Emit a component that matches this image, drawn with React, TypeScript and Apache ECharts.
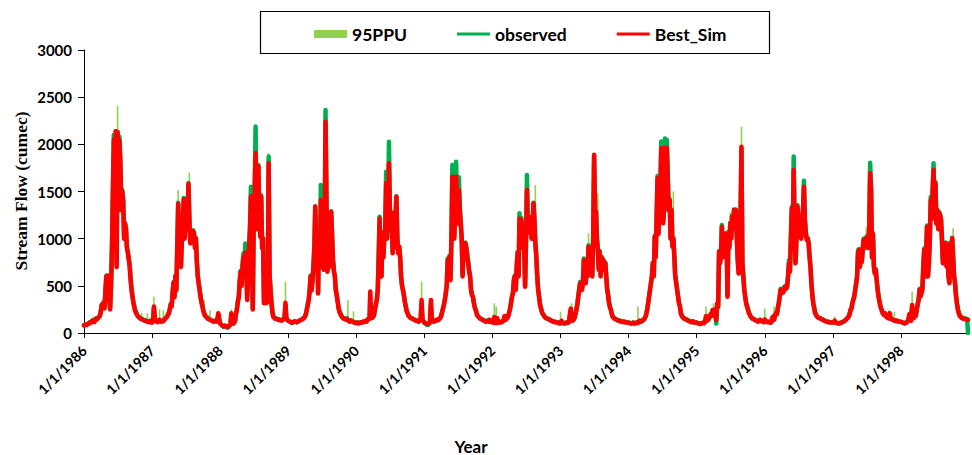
import React, { useEffect, useRef } from "react";
import * as echarts from "echarts";

// ---------------- data ----------------
const years = [1986, 1987, 1988, 1989, 1990, 1991, 1992, 1993, 1994, 1995, 1996, 1997, 1998];
const flowStepDays = 5; // observed / Best_Sim sampled every 5 days from 1 Jan of each year
const ppuStepDays = 10; // 95PPU band sampled every 10 days from 1 Jan of each year

const bestSim: number[][] = [
  [80, 85, 90, 85, 95, 100, 110, 105, 120, 130, 125, 115, 140, 150, 145, 160, 170, 180, 220, 300, 280, 320, 260, 450, 600, 420, 610, 380, 250, 500, 900, 1500, 2050, 1200, 2140, 700, 2130, 1600, 2040, 1800, 1300, 1500, 1400, 1000, 1160, 1100, 900, 850, 780, 700, 560, 450, 385, 320, 270, 230, 210, 190, 175, 165, 155, 150, 145, 140, 135, 130, 130, 125, 120, 120, 115, 125, 110],
  [110, 120, 280, 150, 130, 120, 115, 130, 140, 125, 120, 130, 125, 140, 150, 160, 170, 190, 210, 250, 300, 280, 420, 530, 380, 600, 450, 900, 1370, 900, 1100, 700, 1000, 1200, 1420, 1000, 1200, 1350, 1100, 1580, 1200, 950, 1060, 980, 1080, 1050, 900, 1000, 750, 600, 520, 450, 380, 320, 280, 230, 200, 180, 170, 160, 150, 145, 140, 135, 130, 125, 120, 125, 130, 120, 140, 210, 150],
  [100, 90, 80, 75, 70, 80, 75, 70, 65, 75, 80, 90, 210, 120, 100, 110, 130, 200, 250, 330, 380, 550, 650, 500, 700, 810, 600, 850, 700, 350, 600, 900, 1100, 1450, 1000, 250, 1200, 1500, 1905, 1100, 1400, 1765, 1200, 1020, 1445, 900, 1000, 315, 350, 330, 320, 350, 1800, 600, 456, 315, 220, 170, 160, 150, 150, 145, 140, 140, 135, 135, 130, 140, 145, 150, 320, 160, 140],
  [130, 125, 120, 115, 110, 115, 120, 125, 120, 115, 120, 125, 130, 135, 140, 145, 150, 160, 175, 200, 250, 300, 350, 450, 600, 450, 550, 700, 900, 1340, 900, 1000, 420, 1050, 800, 1410, 700, 1000, 670, 900, 2240, 1400, 650, 900, 700, 1000, 1286, 1040, 770, 650, 600, 450, 400, 330, 260, 220, 200, 180, 165, 155, 150, 145, 140, 150, 135, 125, 120, 130, 125, 120, 115, 110, 105],
  [105, 110, 100, 105, 110, 115, 110, 120, 115, 125, 130, 120, 140, 150, 150, 440, 180, 160, 170, 190, 250, 300, 350, 450, 800, 1215, 700, 600, 1057, 800, 1000, 1100, 1587, 1000, 1200, 1800, 1300, 1100, 1270, 845, 1000, 900, 1200, 1445, 1000, 845, 915, 800, 600, 500, 456, 400, 330, 280, 230, 210, 180, 170, 160, 155, 150, 145, 140, 135, 130, 130, 125, 120, 130, 150, 350, 140, 125],
  [110, 105, 100, 95, 95, 100, 120, 350, 150, 130, 120, 125, 130, 140, 135, 140, 150, 160, 180, 220, 260, 300, 350, 420, 500, 775, 600, 810, 560, 1000, 1657, 1160, 1000, 1300, 1657, 1400, 1160, 1516, 1300, 1160, 1000, 600, 900, 850, 950, 900, 810, 740, 650, 600, 456, 400, 385, 320, 270, 244, 210, 180, 170, 160, 150, 145, 140, 135, 130, 125, 120, 125, 130, 120, 140, 120, 115],
  [115, 110, 170, 110, 105, 160, 110, 115, 110, 120, 115, 125, 130, 180, 140, 150, 160, 180, 220, 260, 320, 385, 420, 560, 600, 456, 700, 850, 600, 1215, 900, 1200, 1050, 1090, 900, 490, 1000, 1516, 1100, 1230, 1060, 1150, 1000, 1100, 1375, 1200, 950, 810, 600, 456, 380, 300, 260, 220, 200, 185, 170, 160, 155, 150, 145, 140, 135, 130, 125, 120, 120, 115, 115, 110, 110, 105, 100],
  [100, 130, 110, 105, 100, 105, 110, 105, 110, 115, 200, 260, 150, 130, 140, 160, 200, 244, 300, 380, 456, 527, 480, 456, 527, 770, 600, 527, 700, 600, 915, 800, 615, 700, 600, 1000, 1887, 1286, 1286, 1000, 880, 668, 860, 600, 800, 700, 770, 668, 739, 600, 456, 400, 315, 270, 244, 200, 170, 160, 150, 145, 140, 135, 130, 130, 125, 120, 125, 120, 115, 120, 115, 110, 110],
  [110, 105, 100, 100, 105, 110, 100, 100, 105, 110, 105, 120, 130, 120, 125, 130, 140, 150, 170, 200, 250, 315, 385, 456, 527, 600, 739, 600, 1020, 800, 1200, 1640, 1050, 1300, 1500, 1958, 1400, 1163, 1300, 1960, 1700, 1960, 1620, 1300, 1410, 1000, 1300, 915, 1000, 810, 600, 527, 456, 385, 315, 280, 210, 180, 165, 155, 150, 145, 140, 135, 130, 125, 120, 115, 120, 125, 110, 115, 110],
  [110, 105, 100, 100, 95, 100, 105, 110, 105, 120, 180, 130, 140, 150, 173, 200, 180, 244, 190, 250, 200, 140, 315, 280, 862, 739, 810, 1127, 800, 1050, 900, 1000, 1050, 385, 1057, 900, 1160, 1000, 1233, 1100, 1304, 1200, 1304, 1000, 770, 630, 700, 1200, 1975, 739, 600, 456, 385, 315, 280, 244, 210, 190, 170, 160, 150, 145, 140, 135, 130, 125, 120, 130, 140, 125, 130, 120, 115],
  [140, 125, 120, 115, 120, 115, 110, 115, 160, 173, 140, 190, 210, 200, 260, 315, 380, 456, 420, 456, 430, 480, 490, 470, 490, 600, 739, 650, 1000, 1320, 900, 1728, 1100, 739, 1000, 1340, 1233, 1100, 1057, 1000, 1100, 1300, 1550, 1200, 1057, 986, 1000, 951, 810, 700, 527, 400, 315, 260, 210, 190, 175, 165, 160, 155, 150, 145, 140, 135, 130, 125, 120, 120, 115, 115, 110, 110, 110],
  [110, 115, 130, 110, 105, 100, 105, 100, 105, 110, 115, 120, 125, 130, 140, 150, 160, 173, 200, 244, 260, 315, 350, 385, 456, 520, 597, 845, 880, 700, 800, 750, 880, 986, 900, 1000, 950, 1020, 900, 1100, 1693, 1516, 800, 1050, 700, 630, 668, 560, 456, 385, 330, 280, 250, 220, 200, 190, 210, 175, 165, 160, 155, 210, 150, 145, 140, 135, 130, 135, 125, 130, 125, 120, 120],
  [120, 115, 110, 105, 100, 105, 110, 120, 140, 200, 150, 130, 297, 180, 160, 200, 180, 250, 300, 350, 456, 385, 420, 456, 700, 880, 600, 850, 1127, 600, 739, 1000, 1410, 1200, 1500, 1728, 1300, 1587, 1160, 1300, 1100, 1270, 1250, 1200, 986, 739, 900, 800, 951, 700, 900, 600, 527, 951, 700, 1004, 800, 600, 527, 400, 315, 250, 210, 180, 170, 160, 155, 150, 150, 145, 145, 140, 140],
];

const observed: number[][] = [
  [85, 90, 85, 90, 95, 105, 110, 110, 120, 135, 125, 120, 140, 155, 150, 160, 175, 185, 230, 300, 290, 330, 270, 460, 610, 430, 600, 390, 260, 520, 920, 1520, 2100, 1250, 2140, 720, 2130, 1620, 2080, 1820, 1320, 1520, 1420, 1020, 1170, 1120, 920, 860, 790, 720, 580, 470, 400, 330, 280, 240, 215, 195, 180, 170, 160, 155, 150, 145, 140, 135, 135, 130, 125, 125, 120, 130, 115],
  [115, 120, 270, 150, 130, 125, 120, 130, 140, 130, 125, 130, 130, 140, 155, 165, 175, 195, 215, 255, 310, 290, 430, 540, 390, 610, 460, 910, 1380, 910, 1110, 720, 1020, 1210, 1430, 1020, 1210, 1360, 1120, 1590, 1210, 960, 1070, 990, 1090, 1060, 910, 1010, 760, 610, 530, 460, 390, 330, 290, 240, 210, 185, 175, 165, 155, 150, 145, 140, 135, 130, 125, 130, 135, 125, 140, 200, 150],
  [100, 90, 80, 70, 65, 75, 70, 65, 55, 60, 75, 85, 200, 115, 100, 110, 130, 210, 260, 340, 390, 560, 660, 520, 720, 845, 620, 950, 720, 360, 620, 920, 1120, 1550, 1020, 260, 1220, 1520, 2190, 1120, 1420, 1780, 1220, 1040, 1460, 920, 1010, 330, 360, 340, 330, 360, 1870, 620, 470, 330, 230, 180, 165, 155, 155, 150, 145, 145, 140, 140, 135, 140, 150, 155, 300, 165, 140],
  [130, 125, 120, 115, 110, 115, 120, 125, 120, 115, 120, 125, 130, 135, 140, 145, 155, 165, 180, 205, 255, 310, 360, 460, 610, 460, 560, 710, 910, 1340, 910, 1010, 430, 1060, 810, 1570, 710, 1010, 680, 910, 2364, 1420, 660, 910, 710, 1010, 1290, 1050, 780, 660, 610, 460, 410, 340, 270, 230, 210, 185, 170, 160, 155, 150, 145, 155, 140, 130, 125, 135, 130, 125, 120, 115, 110],
  [110, 110, 105, 105, 110, 115, 115, 120, 120, 125, 130, 125, 140, 150, 150, 160, 170, 165, 175, 195, 255, 310, 360, 460, 810, 1233, 710, 610, 1070, 810, 1010, 1110, 1710, 1010, 1210, 2028, 1320, 1110, 1280, 860, 1010, 910, 1210, 1450, 1010, 860, 920, 810, 610, 510, 460, 410, 340, 290, 240, 215, 185, 175, 165, 160, 155, 150, 145, 140, 135, 135, 130, 125, 130, 145, 300, 140, 125],
  [105, 100, 90, 85, 85, 95, 115, 300, 145, 130, 120, 125, 130, 140, 135, 140, 150, 160, 185, 225, 265, 310, 360, 430, 510, 790, 610, 820, 570, 1010, 1780, 1180, 1010, 1320, 1816, 1420, 1180, 1650, 1320, 1180, 1010, 610, 910, 860, 960, 910, 820, 750, 660, 610, 470, 410, 390, 330, 280, 250, 215, 185, 175, 165, 155, 150, 145, 140, 135, 130, 125, 130, 135, 125, 140, 125, 120],
  [120, 115, 160, 115, 110, 150, 115, 115, 115, 120, 120, 125, 135, 170, 145, 155, 165, 185, 225, 265, 330, 390, 430, 570, 610, 470, 710, 860, 610, 1270, 910, 1220, 1060, 1100, 910, 500, 1010, 1675, 1110, 1240, 1070, 1160, 1010, 1110, 1380, 1210, 960, 820, 610, 470, 390, 310, 270, 230, 205, 190, 175, 165, 160, 155, 150, 145, 140, 135, 130, 125, 125, 120, 120, 115, 115, 110, 105],
  [105, 120, 110, 105, 100, 105, 110, 110, 110, 115, 180, 240, 150, 135, 145, 165, 205, 250, 310, 390, 470, 540, 490, 470, 540, 790, 610, 540, 710, 610, 930, 810, 630, 710, 610, 1010, 1890, 1300, 1290, 1010, 890, 680, 870, 610, 810, 710, 780, 680, 750, 610, 470, 410, 325, 280, 250, 205, 175, 165, 155, 150, 145, 140, 135, 135, 130, 125, 125, 120, 120, 120, 115, 115, 110],
  [110, 105, 105, 100, 105, 110, 105, 100, 105, 115, 110, 120, 130, 125, 125, 135, 145, 155, 175, 205, 255, 325, 395, 470, 540, 610, 750, 610, 1030, 810, 1210, 1665, 1060, 1310, 1510, 2030, 1410, 1180, 1310, 2063, 1710, 2046, 1640, 1310, 1420, 1010, 1310, 930, 1010, 820, 610, 540, 470, 395, 325, 290, 220, 190, 175, 160, 155, 150, 145, 140, 135, 130, 125, 120, 120, 125, 115, 115, 110],
  [110, 105, 100, 100, 95, 100, 105, 110, 105, 120, 170, 130, 140, 150, 170, 195, 180, 240, 190, 245, 180, 100, 300, 270, 870, 750, 820, 1145, 810, 1060, 910, 1010, 1060, 400, 1070, 910, 1170, 1010, 1240, 1110, 1310, 1210, 1310, 1010, 780, 640, 710, 1210, 1950, 750, 610, 470, 395, 325, 290, 255, 220, 195, 175, 165, 155, 150, 145, 140, 135, 130, 125, 135, 140, 130, 130, 125, 120],
  [145, 130, 125, 120, 120, 115, 115, 115, 150, 170, 140, 185, 205, 205, 265, 320, 390, 470, 430, 470, 440, 490, 500, 480, 500, 610, 774, 660, 1010, 1339, 910, 1870, 1110, 750, 1010, 1357, 1250, 1110, 1070, 1010, 1110, 1310, 1615, 1210, 1070, 1000, 1010, 960, 820, 710, 540, 410, 325, 270, 220, 200, 180, 170, 165, 160, 155, 150, 145, 140, 135, 130, 125, 125, 120, 120, 115, 115, 115],
  [115, 115, 125, 110, 105, 105, 105, 105, 105, 110, 115, 120, 125, 135, 145, 155, 165, 180, 205, 250, 265, 325, 360, 395, 470, 530, 610, 880, 890, 710, 810, 760, 890, 1000, 910, 1010, 960, 1030, 910, 1110, 1806, 1530, 810, 1060, 710, 640, 680, 570, 470, 395, 340, 290, 260, 230, 210, 195, 200, 180, 170, 165, 160, 200, 155, 150, 145, 140, 135, 135, 130, 130, 125, 125, 120],
  [120, 115, 110, 105, 105, 110, 115, 125, 140, 190, 150, 135, 280, 180, 165, 200, 185, 255, 310, 360, 470, 395, 430, 470, 710, 898, 610, 860, 1140, 610, 750, 1010, 1445, 1210, 1510, 1800, 1310, 1600, 1170, 1310, 1110, 1286, 1260, 1210, 1000, 750, 910, 810, 960, 710, 910, 610, 540, 960, 710, 1010, 810, 610, 540, 410, 325, 260, 220, 190, 180, 170, 165, 160, 155, 155, 150, 145, 0],
];

const ppuLower: number[][] = [
  [65, 75, 80, 95, 105, 110, 125, 130, 155, 205, 265, 245, 585, 595, 235, 885, 2035, 2125, 2115, 2025, 1285, 1385, 1145, 885, 765, 545, 370, 255, 195, 160, 140, 130, 120, 115, 105, 100, 95],
  [95, 265, 115, 100, 125, 105, 110, 135, 155, 195, 285, 405, 365, 435, 1355, 1085, 985, 1405, 1185, 1085, 1185, 1045, 1065, 885, 735, 505, 365, 265, 185, 155, 135, 125, 115, 105, 115, 125, 135],
  [85, 65, 55, 60, 50, 65, 195, 85, 115, 235, 365, 635, 685, 585, 685, 585, 1085, 985, 1185, 1890, 1385, 1185, 1430, 985, 335, 305, 1785, 440, 205, 145, 135, 125, 120, 115, 130, 305, 125],
  [115, 105, 95, 105, 105, 105, 115, 125, 135, 160, 235, 335, 585, 535, 885, 885, 405, 785, 685, 655, 2225, 635, 685, 1270, 755, 585, 385, 245, 185, 150, 135, 125, 120, 105, 110, 100, 90],
  [90, 85, 95, 95, 100, 115, 125, 135, 165, 155, 235, 335, 785, 685, 1040, 985, 1570, 1185, 1285, 1255, 985, 1185, 985, 900, 585, 440, 315, 215, 165, 145, 135, 125, 115, 110, 115, 335, 110],
  [95, 85, 80, 105, 135, 105, 115, 120, 135, 165, 245, 335, 485, 585, 545, 1640, 985, 1640, 1145, 1285, 985, 885, 935, 795, 635, 440, 370, 255, 195, 155, 135, 125, 115, 105, 115, 125, 100],
  [100, 155, 90, 95, 95, 100, 115, 125, 145, 205, 305, 405, 585, 685, 585, 885, 1035, 885, 985, 1085, 1045, 985, 1360, 935, 585, 365, 245, 185, 155, 140, 130, 120, 110, 105, 100, 95, 85],
  [85, 95, 85, 95, 95, 185, 135, 125, 185, 285, 440, 465, 510, 585, 685, 900, 600, 585, 1870, 1270, 865, 845, 785, 755, 725, 440, 300, 230, 155, 135, 125, 115, 110, 110, 100, 100, 95],
  [95, 85, 90, 85, 90, 90, 115, 110, 125, 155, 235, 370, 510, 725, 1005, 1185, 1035, 1485, 1385, 1285, 1685, 1605, 1395, 1285, 985, 585, 440, 300, 195, 150, 135, 125, 115, 105, 105, 95, 95],
  [95, 85, 80, 90, 90, 165, 125, 155, 165, 175, 185, 300, 845, 795, 785, 885, 1035, 1040, 1145, 1220, 1290, 1290, 755, 685, 1960, 585, 370, 265, 195, 155, 135, 125, 115, 105, 125, 115, 100],
  [125, 105, 105, 95, 145, 125, 195, 245, 365, 405, 415, 475, 475, 725, 985, 885, 1085, 985, 1215, 1040, 1085, 1535, 1040, 985, 795, 510, 300, 195, 160, 145, 135, 125, 115, 105, 100, 95, 95],
  [95, 115, 90, 90, 90, 100, 110, 125, 145, 185, 245, 335, 440, 580, 865, 785, 865, 885, 935, 885, 1678, 785, 685, 653, 440, 315, 235, 185, 195, 150, 140, 135, 125, 115, 110, 110, 105],
  [105, 95, 85, 95, 125, 135, 280, 145, 165, 285, 440, 405, 685, 585, 1110, 725, 1395, 1485, 1285, 1145, 1085, 1235, 970, 885, 935, 885, 510, 685, 785, 510, 300, 195, 155, 140, 135, 130, 125],
];

const ppuUpper: number[][] = [
  [95, 105, 110, 125, 135, 175, 155, 180, 185, 235, 295, 275, 615, 625, 265, 915, 2065, 2155, 2410, 2055, 1315, 1415, 1175, 915, 795, 575, 400, 285, 225, 190, 170, 210, 150, 145, 210, 130, 125],
  [125, 385, 145, 130, 250, 135, 240, 165, 185, 225, 315, 435, 395, 465, 1516, 1115, 1015, 1435, 1215, 1115, 1700, 1075, 1095, 915, 765, 535, 395, 295, 350, 185, 165, 240, 145, 135, 145, 155, 165],
  [115, 95, 85, 90, 80, 95, 250, 115, 145, 265, 395, 665, 715, 615, 715, 615, 1115, 1015, 1215, 1920, 1415, 1215, 1460, 1015, 365, 335, 1905, 470, 235, 175, 165, 155, 150, 145, 160, 545, 155],
  [145, 135, 125, 135, 135, 135, 145, 155, 165, 190, 265, 365, 615, 565, 915, 915, 435, 815, 715, 685, 2255, 665, 715, 1300, 785, 615, 415, 275, 215, 180, 165, 155, 350, 135, 140, 230, 120],
  [120, 115, 125, 125, 130, 145, 155, 165, 195, 185, 265, 365, 815, 715, 1072, 1015, 1602, 1215, 1315, 1285, 1015, 1215, 1015, 930, 615, 470, 345, 245, 195, 175, 165, 155, 145, 140, 145, 545, 140],
  [125, 115, 110, 135, 165, 135, 145, 150, 165, 195, 275, 365, 515, 615, 575, 1672, 1015, 1672, 1175, 1315, 1015, 915, 965, 825, 665, 470, 400, 285, 225, 185, 165, 155, 145, 135, 145, 155, 130],
  [130, 315, 280, 125, 125, 130, 145, 155, 175, 235, 335, 435, 615, 715, 615, 915, 1065, 915, 1015, 1115, 1075, 1015, 1390, 1570, 615, 395, 275, 215, 185, 170, 160, 150, 140, 135, 130, 125, 115],
  [226, 125, 115, 125, 125, 215, 315, 155, 215, 315, 470, 495, 540, 615, 715, 1057, 630, 615, 1900, 1300, 1480, 875, 815, 785, 755, 470, 330, 260, 185, 165, 155, 145, 140, 140, 130, 130, 125],
  [125, 115, 120, 115, 120, 280, 145, 140, 155, 240, 265, 400, 540, 755, 1035, 1215, 1065, 1515, 1415, 1315, 1715, 1635, 1425, 1315, 1500, 615, 470, 330, 225, 180, 165, 155, 145, 135, 135, 125, 125],
  [125, 115, 110, 120, 120, 280, 155, 190, 195, 315, 215, 330, 875, 825, 815, 915, 1065, 1070, 1280, 1245, 1320, 1320, 785, 715, 2188, 615, 400, 295, 225, 185, 165, 155, 145, 135, 155, 145, 130],
  [260, 135, 135, 125, 175, 280, 225, 290, 395, 435, 445, 505, 505, 755, 1015, 915, 1115, 1015, 1250, 1070, 1115, 1565, 1070, 1015, 825, 540, 330, 225, 190, 175, 165, 155, 145, 135, 130, 125, 125],
  [125, 175, 120, 120, 120, 130, 140, 155, 175, 260, 275, 365, 470, 612, 895, 815, 895, 915, 1127, 915, 1708, 815, 715, 683, 470, 345, 265, 215, 225, 180, 244, 165, 155, 226, 140, 140, 135],
  [135, 125, 115, 125, 155, 244, 438, 175, 195, 320, 470, 490, 715, 615, 1140, 755, 1425, 1515, 1315, 1175, 1115, 1265, 1000, 968, 965, 915, 540, 715, 1110, 540, 330, 225, 185, 170, 165, 160, 155],
];

const seriesNames = ["95PPU", "observed", "Best_Sim"];
const yAxisTitle = "Stream Flow (cumec)";
const xAxisTitle = "Year";

// ---------------- chart ----------------
const SANS = "Lato, 'DejaVu Sans', sans-serif";
const SERIF = "'Liberation Serif', 'DejaVu Serif', serif";
// legend line icon: 3px bar inside an 8px-tall box (zero-area edges keep the box height)
const LINE_ICON = "path://M0,0L33,0L33,0Z M0,2.5L33,2.5L33,5.5L0,5.5Z M0,8L33,8L33,8Z";

export default function App() {
  const ref = useRef<HTMLDivElement>(null);

  useEffect(() => {
    if (!ref.current) return;
    const chart = echarts.init(ref.current, null, { renderer: "svg" });

    const xOf = (year: number, day: number) => year + day / 365;

    const simData = years.flatMap((y, yi) =>
      bestSim[yi].map((v, i) => [xOf(y, i * flowStepDays), v])
    );
    const obsData = years.flatMap((y, yi) =>
      observed[yi].map((v, i) => [xOf(y, i * flowStepDays), v])
    );
    const ppuData = years.flatMap((y, yi) =>
      ppuUpper[yi].map((v, k) => [xOf(y, k * ppuStepDays), ppuLower[yi][k], v])
    );

    const option: any = {
      animation: false,
      backgroundColor: "#fff",
      grid: { left: 84, right: 3, top: 50, bottom: 122, containLabel: false },
      legend: {
        left: 314,
        top: 25,
        padding: 0,
        itemWidth: 33,
        itemHeight: 8,
        itemGap: 50,
        selectedMode: false,
        textStyle: { fontFamily: SANS, fontWeight: "bold", fontSize: 17.5, color: "#000" },
        data: [
          { name: seriesNames[0], icon: "rect", itemStyle: { borderWidth: 0 } },
          { name: seriesNames[1], icon: LINE_ICON, itemStyle: { borderWidth: 0, color: "#00B050" } },
          { name: seriesNames[2], icon: LINE_ICON, itemStyle: { borderWidth: 0, color: "#FF0000" } },
        ],
      },
      xAxis: {
        type: "value",
        min: years[0],
        max: years[years.length - 1] + 1,
        interval: 1,
        splitLine: { show: false },
        axisLine: { show: true, onZero: false, lineStyle: { color: "#000", width: 1 } },
        axisTick: { show: true, inside: false, length: 5, lineStyle: { color: "#000" } },
        axisLabel: {
          rotate: 45,
          margin: 15,
          showMaxLabel: false,
          formatter: (v: number) => `1/1/${Math.round(v)}`,
          fontFamily: SANS,
          fontWeight: "bold",
          fontSize: 14,
          color: "#000",
        },
      },
      yAxis: {
        type: "value",
        min: 0,
        max: 3000,
        interval: 500,
        splitLine: { show: false },
        axisLine: { show: true, lineStyle: { color: "#000", width: 1 } },
        axisTick: { show: true, inside: false, length: 6, lineStyle: { color: "#000" } },
        axisLabel: {
          margin: 12,
          formatter: (v: number) => String(v),
          fontFamily: SANS,
          fontWeight: "bold",
          fontSize: 15,
          color: "#000",
        },
      },
      graphic: [
        {
          type: "rect",
          shape: { x: 260.5, y: 11.5, width: 509, height: 42 },
          style: { fill: "none", stroke: "#000", lineWidth: 1.2 },
          silent: true,
        },
        {
          type: "text",
          x: 21,
          y: 191,
          rotation: Math.PI / 2,
          style: {
            text: yAxisTitle,
            fontFamily: SERIF,
            fontWeight: "bold",
            fontSize: 17.5,
            fill: "#000",
            align: "center",
            verticalAlign: "middle",
          },
          silent: true,
        },
        {
          type: "text",
          x: 471,
          y: 446,
          style: {
            text: xAxisTitle,
            fontFamily: SANS,
            fontWeight: "bold",
            fontSize: 17,
            fill: "#000",
            align: "center",
            verticalAlign: "middle",
          },
          silent: true,
        },
      ],
      series: [
        {
          type: "custom",
          name: seriesNames[0],
          data: ppuData,
          encode: { x: 0, y: [1, 2] },
          itemStyle: { color: "#92D050" },
          silent: true,
          clip: true,
          renderItem: (params: any, api: any) => {
            const x = api.value(0);
            const lo = api.coord([x, api.value(1)]);
            const hi = api.coord([x, api.value(2)]);
            return {
              type: "rect",
              shape: { x: hi[0] - 0.8, y: hi[1], width: 1.6, height: Math.max(lo[1] - hi[1], 0) },
              style: { fill: "#92D050" },
            };
          },
        },
        {
          type: "line",
          name: seriesNames[1],
          data: obsData,
          showSymbol: false,
          symbol: "none",
          silent: true,
          color: "#00B050",
          lineStyle: { color: "#00B050", width: 4.5, join: "round", cap: "round" },
        },
        {
          type: "line",
          name: seriesNames[2],
          data: simData,
          showSymbol: false,
          symbol: "none",
          silent: true,
          color: "#FF0000",
          lineStyle: { color: "#FF0000", width: 4.5, join: "round", cap: "round" },
        },
      ],
    };

    chart.setOption(option);
    return () => chart.dispose();
  }, []);

  return (
    <div
      ref={ref}
      style={{ position: "absolute", left: 0, top: 0, width: 972, height: 455 }}
    />
  );
}
